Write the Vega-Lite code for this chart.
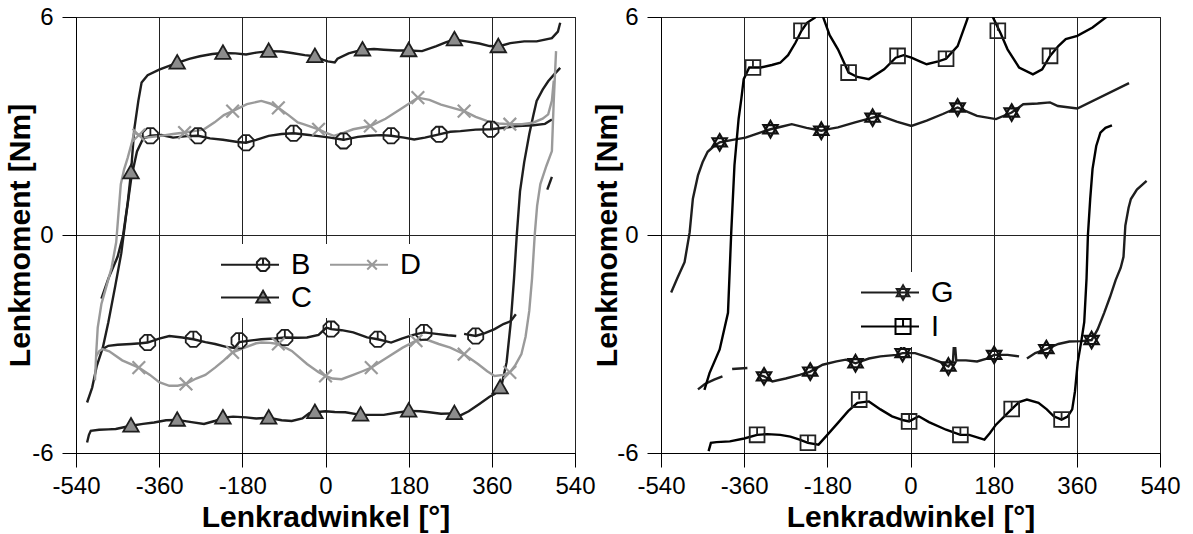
{
"$schema": "https://vega.github.io/schema/vega-lite/v6.json",
"background": "white",
"padding": {"left": 4, "top": 4, "right": 0, "bottom": 0},
"datasets": {
"leftLines": [
{"s":"B","b":"Bu","x":-516,"y":-4.61},{"s":"B","b":"Bu","x":-505,"y":-4.2},{"s":"B","b":"Bu","x":-495,"y":-3.6},{"s":"B","b":"Bu","x":-482,"y":-3.1},{"s":"B","b":"Bu","x":-470,"y":-2.4},{"s":"B","b":"Bu","x":-455,"y":-1.4},{"s":"B","b":"Bu","x":-442,"y":-0.5},{"s":"B","b":"Bu","x":-432,"y":0.5},{"s":"B","b":"Bu","x":-420,"y":1.6},{"s":"B","b":"Bu","x":-408,"y":2.3},{"s":"B","b":"Bu","x":-395,"y":2.65},{"s":"B","b":"Bu","x":-379,"y":2.73},{"s":"B","b":"Bu","x":-355,"y":2.75},{"s":"B","b":"Bu","x":-330,"y":2.68},{"s":"B","b":"Bu","x":-300,"y":2.72},{"s":"B","b":"Bu","x":-276,"y":2.73},{"s":"B","b":"Bu","x":-250,"y":2.66},{"s":"B","b":"Bu","x":-222,"y":2.62},{"s":"B","b":"Bu","x":-190,"y":2.56},{"s":"B","b":"Bu","x":-172,"y":2.54},{"s":"B","b":"Bu","x":-150,"y":2.62},{"s":"B","b":"Bu","x":-123,"y":2.73},{"s":"B","b":"Bu","x":-95,"y":2.78},{"s":"B","b":"Bu","x":-69,"y":2.8},{"s":"B","b":"Bu","x":-40,"y":2.76},{"s":"B","b":"Bu","x":-15,"y":2.72},{"s":"B","b":"Bu","x":10,"y":2.68},{"s":"B","b":"Bu","x":39,"y":2.62},{"s":"B","b":"Bu","x":70,"y":2.7},{"s":"B","b":"Bu","x":93,"y":2.73},{"s":"B","b":"Bu","x":120,"y":2.75},{"s":"B","b":"Bu","x":142,"y":2.73},{"s":"B","b":"Bu","x":170,"y":2.68},{"s":"B","b":"Bu","x":192,"y":2.63},{"s":"B","b":"Bu","x":215,"y":2.68},{"s":"B","b":"Bu","x":246,"y":2.77},{"s":"B","b":"Bu","x":270,"y":2.84},{"s":"B","b":"Bu","x":292,"y":2.86},{"s":"B","b":"Bu","x":325,"y":2.9},{"s":"B","b":"Bu","x":358,"y":2.91},{"s":"B","b":"Bu","x":390,"y":2.96},{"s":"B","b":"Bu","x":416,"y":3.0},{"s":"B","b":"Bu","x":450,"y":3.02},{"s":"B","b":"Bu","x":475,"y":3.06},{"s":"B","b":"Bu","x":490,"y":3.18},
{"s":"B","b":"Bl","x":-483,"y":-3.14},{"s":"B","b":"Bl","x":-470,"y":-3.05},{"s":"B","b":"Bl","x":-450,"y":-3.02},{"s":"B","b":"Bl","x":-421,"y":-3.0},{"s":"B","b":"Bl","x":-400,"y":-2.98},{"s":"B","b":"Bl","x":-385,"y":-2.96},{"s":"B","b":"Bl","x":-360,"y":-2.85},{"s":"B","b":"Bl","x":-338,"y":-2.78},{"s":"B","b":"Bl","x":-310,"y":-2.82},{"s":"B","b":"Bl","x":-286,"y":-2.87},{"s":"B","b":"Bl","x":-260,"y":-2.95},{"s":"B","b":"Bl","x":-239,"y":-3.0},{"s":"B","b":"Bl","x":-215,"y":-3.08},{"s":"B","b":"Bl","x":-197,"y":-3.11},{"s":"B","b":"Bl","x":-187,"y":-2.95},{"s":"B","b":"Bl","x":-160,"y":-2.9},{"s":"B","b":"Bl","x":-139,"y":-2.87},{"s":"B","b":"Bl","x":-110,"y":-2.85},{"s":"B","b":"Bl","x":-88,"y":-2.82},{"s":"B","b":"Bl","x":-60,"y":-2.83},{"s":"B","b":"Bl","x":-40,"y":-2.82},{"s":"B","b":"Bl","x":-15,"y":-2.75},{"s":"B","b":"Bl","x":2,"y":-2.55},{"s":"B","b":"Bl","x":12,"y":-2.59},{"s":"B","b":"Bl","x":35,"y":-2.62},{"s":"B","b":"Bl","x":60,"y":-2.68},{"s":"B","b":"Bl","x":90,"y":-2.82},{"s":"B","b":"Bl","x":113,"y":-2.87},{"s":"B","b":"Bl","x":130,"y":-2.92},{"s":"B","b":"Bl","x":142,"y":-2.96},{"s":"B","b":"Bl","x":165,"y":-2.85},{"s":"B","b":"Bl","x":190,"y":-2.75},{"s":"B","b":"Bl","x":213,"y":-2.68},{"s":"B","b":"Bl","x":240,"y":-2.72},{"s":"B","b":"Bl","x":265,"y":-2.76},{"s":"B","b":"Bl","x":283,"y":-2.78},
{"s":"B","b":"Bl2","x":300,"y":-2.72},{"s":"B","b":"Bl2","x":325,"y":-2.78},{"s":"B","b":"Bl2","x":345,"y":-2.7},{"s":"B","b":"Bl2","x":366,"y":-2.59},{"s":"B","b":"Bl2","x":385,"y":-2.45},{"s":"B","b":"Bl2","x":401,"y":-2.37},{"s":"B","b":"Bl2","x":412,"y":-2.18},
{"s":"B","b":"Bl3","x":480,"y":1.25},{"s":"B","b":"Bl3","x":490,"y":1.6},
{"s":"C","b":"Cu","x":-485,"y":-1.75},{"s":"C","b":"Cu","x":-470,"y":-1.2},{"s":"C","b":"Cu","x":-450,"y":-0.6},{"s":"C","b":"Cu","x":-438,"y":0},{"s":"C","b":"Cu","x":-428,"y":0.9},{"s":"C","b":"Cu","x":-421,"y":1.72},{"s":"C","b":"Cu","x":-414,"y":2.9},{"s":"C","b":"Cu","x":-405,"y":3.7},{"s":"C","b":"Cu","x":-398,"y":4.2},{"s":"C","b":"Cu","x":-385,"y":4.4},{"s":"C","b":"Cu","x":-360,"y":4.55},{"s":"C","b":"Cu","x":-321,"y":4.74},{"s":"C","b":"Cu","x":-295,"y":4.85},{"s":"C","b":"Cu","x":-272,"y":4.92},{"s":"C","b":"Cu","x":-245,"y":4.98},{"s":"C","b":"Cu","x":-222,"y":5.01},{"s":"C","b":"Cu","x":-195,"y":5.0},{"s":"C","b":"Cu","x":-172,"y":4.97},{"s":"C","b":"Cu","x":-150,"y":5.02},{"s":"C","b":"Cu","x":-123,"y":5.06},{"s":"C","b":"Cu","x":-95,"y":5.05},{"s":"C","b":"Cu","x":-73,"y":5.01},{"s":"C","b":"Cu","x":-45,"y":4.95},{"s":"C","b":"Cu","x":-23,"y":4.92},{"s":"C","b":"Cu","x":-5,"y":4.82},{"s":"C","b":"Cu","x":5,"y":4.78},{"s":"C","b":"Cu","x":20,"y":4.75},{"s":"C","b":"Cu","x":26,"y":4.85},{"s":"C","b":"Cu","x":50,"y":5.0},{"s":"C","b":"Cu","x":80,"y":5.1},{"s":"C","b":"Cu","x":105,"y":5.12},{"s":"C","b":"Cu","x":126,"y":5.1},{"s":"C","b":"Cu","x":155,"y":5.08},{"s":"C","b":"Cu","x":180,"y":5.08},{"s":"C","b":"Cu","x":209,"y":5.06},{"s":"C","b":"Cu","x":240,"y":5.2},{"s":"C","b":"Cu","x":260,"y":5.3},{"s":"C","b":"Cu","x":279,"y":5.38},{"s":"C","b":"Cu","x":305,"y":5.33},{"s":"C","b":"Cu","x":333,"y":5.27},{"s":"C","b":"Cu","x":355,"y":5.2},{"s":"C","b":"Cu","x":374,"y":5.19},{"s":"C","b":"Cu","x":400,"y":5.28},{"s":"C","b":"Cu","x":430,"y":5.33},{"s":"C","b":"Cu","x":457,"y":5.33},{"s":"C","b":"Cu","x":490,"y":5.42},{"s":"C","b":"Cu","x":503,"y":5.6},{"s":"C","b":"Cu","x":508,"y":5.84},
{"s":"C","b":"Cl","x":-516,"y":-5.71},{"s":"C","b":"Cl","x":-512,"y":-5.5},{"s":"C","b":"Cl","x":-508,"y":-5.39},{"s":"C","b":"Cl","x":-490,"y":-5.36},{"s":"C","b":"Cl","x":-470,"y":-5.35},{"s":"C","b":"Cl","x":-454,"y":-5.34},{"s":"C","b":"Cl","x":-421,"y":-5.25},{"s":"C","b":"Cl","x":-395,"y":-5.2},{"s":"C","b":"Cl","x":-371,"y":-5.16},{"s":"C","b":"Cl","x":-345,"y":-5.1},{"s":"C","b":"Cl","x":-321,"y":-5.09},{"s":"C","b":"Cl","x":-290,"y":-5.15},{"s":"C","b":"Cl","x":-263,"y":-5.2},{"s":"C","b":"Cl","x":-240,"y":-5.12},{"s":"C","b":"Cl","x":-222,"y":-5.03},{"s":"C","b":"Cl","x":-200,"y":-5.0},{"s":"C","b":"Cl","x":-172,"y":-5.02},{"s":"C","b":"Cl","x":-150,"y":-5.05},{"s":"C","b":"Cl","x":-123,"y":-5.03},{"s":"C","b":"Cl","x":-95,"y":-5.1},{"s":"C","b":"Cl","x":-73,"y":-5.12},{"s":"C","b":"Cl","x":-50,"y":-5.05},{"s":"C","b":"Cl","x":-35,"y":-4.9},{"s":"C","b":"Cl","x":-23,"y":-4.88},{"s":"C","b":"Cl","x":0,"y":-4.85},{"s":"C","b":"Cl","x":20,"y":-4.87},{"s":"C","b":"Cl","x":43,"y":-4.88},{"s":"C","b":"Cl","x":76,"y":-4.95},{"s":"C","b":"Cl","x":100,"y":-4.95},{"s":"C","b":"Cl","x":126,"y":-4.95},{"s":"C","b":"Cl","x":150,"y":-4.9},{"s":"C","b":"Cl","x":180,"y":-4.84},{"s":"C","b":"Cl","x":205,"y":-4.85},{"s":"C","b":"Cl","x":225,"y":-4.88},{"s":"C","b":"Cl","x":250,"y":-4.92},{"s":"C","b":"Cl","x":279,"y":-4.91},{"s":"C","b":"Cl","x":291,"y":-4.97},{"s":"C","b":"Cl","x":310,"y":-4.85},{"s":"C","b":"Cl","x":333,"y":-4.65},{"s":"C","b":"Cl","x":355,"y":-4.45},{"s":"C","b":"Cl","x":366,"y":-4.38},{"s":"C","b":"Cl","x":380,"y":-4.2},{"s":"C","b":"Cl","x":392,"y":-3.5},{"s":"C","b":"Cl","x":401,"y":-2.4},{"s":"C","b":"Cl","x":408,"y":-1.2},{"s":"C","b":"Cl","x":414,"y":0},{"s":"C","b":"Cl","x":421,"y":1.2},{"s":"C","b":"Cl","x":430,"y":2.0},{"s":"C","b":"Cl","x":441,"y":2.77},{"s":"C","b":"Cl","x":450,"y":3.3},{"s":"C","b":"Cl","x":457,"y":3.69},{"s":"C","b":"Cl","x":470,"y":4.0},{"s":"C","b":"Cl","x":482,"y":4.23},{"s":"C","b":"Cl","x":495,"y":4.42},{"s":"C","b":"Cl","x":508,"y":4.6},
{"s":"D","b":"Du","x":-499,"y":-4.0},{"s":"D","b":"Du","x":-496,"y":-3.2},{"s":"D","b":"Du","x":-493,"y":-2.55},{"s":"D","b":"Du","x":-485,"y":-1.9},{"s":"D","b":"Du","x":-475,"y":-1.45},{"s":"D","b":"Du","x":-463,"y":-0.9},{"s":"D","b":"Du","x":-453,"y":-0.2},{"s":"D","b":"Du","x":-448,"y":0.6},{"s":"D","b":"Du","x":-443,"y":1.4},{"s":"D","b":"Du","x":-436,"y":1.8},{"s":"D","b":"Du","x":-428,"y":2.13},{"s":"D","b":"Du","x":-420,"y":2.5},{"s":"D","b":"Du","x":-414,"y":2.82},{"s":"D","b":"Du","x":-404,"y":2.75},{"s":"D","b":"Du","x":-389,"y":2.68},{"s":"D","b":"Du","x":-360,"y":2.72},{"s":"D","b":"Du","x":-330,"y":2.78},{"s":"D","b":"Du","x":-305,"y":2.82},{"s":"D","b":"Du","x":-285,"y":2.86},{"s":"D","b":"Du","x":-263,"y":2.91},{"s":"D","b":"Du","x":-240,"y":3.1},{"s":"D","b":"Du","x":-220,"y":3.3},{"s":"D","b":"Du","x":-201,"y":3.41},{"s":"D","b":"Du","x":-170,"y":3.6},{"s":"D","b":"Du","x":-139,"y":3.69},{"s":"D","b":"Du","x":-120,"y":3.62},{"s":"D","b":"Du","x":-102,"y":3.5},{"s":"D","b":"Du","x":-80,"y":3.3},{"s":"D","b":"Du","x":-60,"y":3.1},{"s":"D","b":"Du","x":-48,"y":3.05},{"s":"D","b":"Du","x":-15,"y":2.91},{"s":"D","b":"Du","x":0,"y":2.82},{"s":"D","b":"Du","x":18,"y":2.73},{"s":"D","b":"Du","x":40,"y":2.82},{"s":"D","b":"Du","x":60,"y":2.91},{"s":"D","b":"Du","x":97,"y":3.0},{"s":"D","b":"Du","x":130,"y":3.2},{"s":"D","b":"Du","x":167,"y":3.5},{"s":"D","b":"Du","x":200,"y":3.78},{"s":"D","b":"Du","x":225,"y":3.72},{"s":"D","b":"Du","x":250,"y":3.59},{"s":"D","b":"Du","x":275,"y":3.5},{"s":"D","b":"Du","x":300,"y":3.41},{"s":"D","b":"Du","x":325,"y":3.25},{"s":"D","b":"Du","x":349,"y":3.14},{"s":"D","b":"Du","x":375,"y":3.07},{"s":"D","b":"Du","x":399,"y":3.05},{"s":"D","b":"Du","x":425,"y":3.05},{"s":"D","b":"Du","x":449,"y":3.09},{"s":"D","b":"Du","x":470,"y":3.2},{"s":"D","b":"Du","x":482,"y":3.32},{"s":"D","b":"Du","x":490,"y":3.7},{"s":"D","b":"Du","x":494,"y":4.25},
{"s":"D","b":"Dl","x":-497,"y":-3.35},{"s":"D","b":"Dl","x":-490,"y":-3.2},{"s":"D","b":"Dl","x":-483,"y":-3.14},{"s":"D","b":"Dl","x":-468,"y":-3.2},{"s":"D","b":"Dl","x":-440,"y":-3.45},{"s":"D","b":"Dl","x":-404,"y":-3.65},{"s":"D","b":"Dl","x":-380,"y":-3.85},{"s":"D","b":"Dl","x":-360,"y":-4.05},{"s":"D","b":"Dl","x":-338,"y":-4.15},{"s":"D","b":"Dl","x":-320,"y":-4.15},{"s":"D","b":"Dl","x":-302,"y":-4.1},{"s":"D","b":"Dl","x":-280,"y":-3.95},{"s":"D","b":"Dl","x":-260,"y":-3.85},{"s":"D","b":"Dl","x":-239,"y":-3.65},{"s":"D","b":"Dl","x":-220,"y":-3.45},{"s":"D","b":"Dl","x":-201,"y":-3.23},{"s":"D","b":"Dl","x":-175,"y":-3.1},{"s":"D","b":"Dl","x":-150,"y":-2.98},{"s":"D","b":"Dl","x":-139,"y":-2.96},{"s":"D","b":"Dl","x":-120,"y":-2.97},{"s":"D","b":"Dl","x":-102,"y":-3.0},{"s":"D","b":"Dl","x":-73,"y":-3.19},{"s":"D","b":"Dl","x":-40,"y":-3.55},{"s":"D","b":"Dl","x":-15,"y":-3.78},{"s":"D","b":"Dl","x":0,"y":-3.88},{"s":"D","b":"Dl","x":15,"y":-3.95},{"s":"D","b":"Dl","x":35,"y":-3.97},{"s":"D","b":"Dl","x":60,"y":-3.85},{"s":"D","b":"Dl","x":80,"y":-3.75},{"s":"D","b":"Dl","x":99,"y":-3.65},{"s":"D","b":"Dl","x":130,"y":-3.4},{"s":"D","b":"Dl","x":167,"y":-3.1},{"s":"D","b":"Dl","x":196,"y":-2.91},{"s":"D","b":"Dl","x":217,"y":-2.87},{"s":"D","b":"Dl","x":245,"y":-3.0},{"s":"D","b":"Dl","x":270,"y":-3.1},{"s":"D","b":"Dl","x":300,"y":-3.28},{"s":"D","b":"Dl","x":330,"y":-3.55},{"s":"D","b":"Dl","x":350,"y":-3.75},{"s":"D","b":"Dl","x":366,"y":-3.88},{"s":"D","b":"Dl","x":385,"y":-3.85},{"s":"D","b":"Dl","x":399,"y":-3.78},{"s":"D","b":"Dl","x":410,"y":-3.6},{"s":"D","b":"Dl","x":424,"y":-3.28},{"s":"D","b":"Dl","x":433,"y":-2.8},{"s":"D","b":"Dl","x":441,"y":-2.09},{"s":"D","b":"Dl","x":447,"y":-1.2},{"s":"D","b":"Dl","x":453,"y":0.03},{"s":"D","b":"Dl","x":458,"y":0.8},{"s":"D","b":"Dl","x":465,"y":1.4},{"s":"D","b":"Dl","x":478,"y":1.9},{"s":"D","b":"Dl","x":490,"y":2.31},{"s":"D","b":"Dl","x":494,"y":3.69},{"s":"D","b":"Dl","x":499,"y":5.06}
],
"leftMarks": [
{"s":"B","x":-379,"y":2.73},{"s":"B","x":-276,"y":2.73},{"s":"B","x":-172,"y":2.54},{"s":"B","x":-69,"y":2.8},{"s":"B","x":39,"y":2.59},{"s":"B","x":142,"y":2.73},{"s":"B","x":246,"y":2.77},{"s":"B","x":358,"y":2.91},{"s":"B","x":-385,"y":-2.96},{"s":"B","x":-286,"y":-2.87},{"s":"B","x":-187,"y":-2.91},{"s":"B","x":-88,"y":-2.82},{"s":"B","x":12,"y":-2.59},{"s":"B","x":113,"y":-2.87},{"s":"B","x":213,"y":-2.68},{"s":"B","x":325,"y":-2.78},
{"s":"C","x":-421,"y":1.72},{"s":"C","x":-321,"y":4.74},{"s":"C","x":-222,"y":5.01},{"s":"C","x":-123,"y":5.06},{"s":"C","x":-23,"y":4.92},{"s":"C","x":80,"y":5.1},{"s":"C","x":180,"y":5.08},{"s":"C","x":279,"y":5.38},{"s":"C","x":374,"y":5.19},{"s":"C","x":-421,"y":-5.25},{"s":"C","x":-321,"y":-5.09},{"s":"C","x":-222,"y":-5.03},{"s":"C","x":-123,"y":-5.03},{"s":"C","x":-23,"y":-4.88},{"s":"C","x":76,"y":-4.95},{"s":"C","x":180,"y":-4.84},{"s":"C","x":279,"y":-4.91},{"s":"C","x":378,"y":-4.2},
{"s":"D","x":-404,"y":2.75},{"s":"D","x":-305,"y":2.82},{"s":"D","x":-201,"y":3.41},{"s":"D","x":-102,"y":3.5},{"s":"D","x":-15,"y":2.91},{"s":"D","x":97,"y":3.0},{"s":"D","x":200,"y":3.78},{"s":"D","x":300,"y":3.41},{"s":"D","x":399,"y":3.05},{"s":"D","x":-404,"y":-3.65},{"s":"D","x":-302,"y":-4.1},{"s":"D","x":-201,"y":-3.23},{"s":"D","x":-102,"y":-3.0},{"s":"D","x":0,"y":-3.88},{"s":"D","x":99,"y":-3.65},{"s":"D","x":196,"y":-2.91},{"s":"D","x":300,"y":-3.28},{"s":"D","x":399,"y":-3.78}
],
"rightLines": [
{"s":"G","b":"Gu","x":-518,"y":-1.58},{"s":"G","b":"Gu","x":-505,"y":-1.2},{"s":"G","b":"Gu","x":-489,"y":-0.75},{"s":"G","b":"Gu","x":-478,"y":0.07},{"s":"G","b":"Gu","x":-471,"y":1.0},{"s":"G","b":"Gu","x":-460,"y":1.64},{"s":"G","b":"Gu","x":-450,"y":2.0},{"s":"G","b":"Gu","x":-439,"y":2.29},{"s":"G","b":"Gu","x":-425,"y":2.45},{"s":"G","b":"Gu","x":-413,"y":2.55},{"s":"G","b":"Gu","x":-385,"y":2.62},{"s":"G","b":"Gu","x":-357,"y":2.68},{"s":"G","b":"Gu","x":-330,"y":2.8},{"s":"G","b":"Gu","x":-303,"y":2.91},{"s":"G","b":"Gu","x":-280,"y":2.98},{"s":"G","b":"Gu","x":-257,"y":3.05},{"s":"G","b":"Gu","x":-225,"y":2.95},{"s":"G","b":"Gu","x":-193,"y":2.87},{"s":"G","b":"Gu","x":-175,"y":2.92},{"s":"G","b":"Gu","x":-157,"y":2.96},{"s":"G","b":"Gu","x":-120,"y":3.1},{"s":"G","b":"Gu","x":-82,"y":3.23},{"s":"G","b":"Gu","x":-65,"y":3.28},{"s":"G","b":"Gu","x":-30,"y":3.12},{"s":"G","b":"Gu","x":2,"y":3.0},{"s":"G","b":"Gu","x":35,"y":3.15},{"s":"G","b":"Gu","x":70,"y":3.33},{"s":"G","b":"Gu","x":102,"y":3.51},{"s":"G","b":"Gu","x":125,"y":3.38},{"s":"G","b":"Gu","x":144,"y":3.28},{"s":"G","b":"Gu","x":185,"y":3.19},{"s":"G","b":"Gu","x":219,"y":3.37},{"s":"G","b":"Gu","x":244,"y":3.6},{"s":"G","b":"Gu","x":275,"y":3.62},{"s":"G","b":"Gu","x":302,"y":3.65},{"s":"G","b":"Gu","x":319,"y":3.55},{"s":"G","b":"Gu","x":361,"y":3.48},{"s":"G","b":"Gu","x":473,"y":4.18},
{"s":"G","b":"Gl1","x":-460,"y":-4.25},{"s":"G","b":"Gl1","x":-445,"y":-4.1},{"s":"G","b":"Gl1","x":-425,"y":-3.98},{"s":"G","b":"Gl1","x":-407,"y":-3.89},
{"s":"G","b":"Gl2","x":-386,"y":-3.69},{"s":"G","b":"Gl2","x":-353,"y":-3.66},
{"s":"G","b":"Gl3","x":-330,"y":-3.85},{"s":"G","b":"Gl3","x":-317,"y":-3.89},{"s":"G","b":"Gl3","x":-299,"y":-4.03},{"s":"G","b":"Gl3","x":-270,"y":-3.95},{"s":"G","b":"Gl3","x":-240,"y":-3.85},{"s":"G","b":"Gl3","x":-217,"y":-3.76},{"s":"G","b":"Gl3","x":-190,"y":-3.57},{"s":"G","b":"Gl3","x":-160,"y":-3.48},{"s":"G","b":"Gl3","x":-140,"y":-3.43},{"s":"G","b":"Gl3","x":-119,"y":-3.53},{"s":"G","b":"Gl3","x":-90,"y":-3.4},{"s":"G","b":"Gl3","x":-65,"y":-3.34},{"s":"G","b":"Gl3","x":-30,"y":-3.3},{"s":"G","b":"Gl3","x":-17,"y":-3.25},{"s":"G","b":"Gl3","x":10,"y":-3.25},{"s":"G","b":"Gl3","x":43,"y":-3.39},{"s":"G","b":"Gl3","x":65,"y":-3.5},{"s":"G","b":"Gl3","x":82,"y":-3.62},{"s":"G","b":"Gl3","x":92,"y":-3.45},{"s":"G","b":"Gl3","x":95,"y":-2.8},{"s":"G","b":"Gl3","x":99,"y":-3.45},{"s":"G","b":"Gl3","x":120,"y":-3.45},{"s":"G","b":"Gl3","x":144,"y":-3.48},{"s":"G","b":"Gl3","x":165,"y":-3.4},{"s":"G","b":"Gl3","x":181,"y":-3.3},{"s":"G","b":"Gl3","x":210,"y":-3.3},{"s":"G","b":"Gl3","x":235,"y":-3.34},
{"s":"G","b":"Gl4","x":252,"y":-3.4},{"s":"G","b":"Gl4","x":270,"y":-3.25},{"s":"G","b":"Gl4","x":294,"y":-3.14},{"s":"G","b":"Gl4","x":320,"y":-3.0},{"s":"G","b":"Gl4","x":344,"y":-2.93},{"s":"G","b":"Gl4","x":370,"y":-2.92},{"s":"G","b":"Gl4","x":392,"y":-2.89},{"s":"G","b":"Gl4","x":405,"y":-2.6},{"s":"G","b":"Gl4","x":419,"y":-2.15},{"s":"G","b":"Gl4","x":432,"y":-1.7},{"s":"G","b":"Gl4","x":444,"y":-1.24},{"s":"G","b":"Gl4","x":455,"y":-0.9},{"s":"G","b":"Gl4","x":461,"y":-0.6},{"s":"G","b":"Gl4","x":465,"y":0.26},{"s":"G","b":"Gl4","x":472,"y":0.75},{"s":"G","b":"Gl4","x":477,"y":0.99},{"s":"G","b":"Gl4","x":490,"y":1.25},{"s":"G","b":"Gl4","x":511,"y":1.49},
{"s":"I","b":"Iu","x":-446,"y":-4.26},{"s":"I","b":"Iu","x":-435,"y":-3.8},{"s":"I","b":"Iu","x":-413,"y":-3.15},{"s":"I","b":"Iu","x":-395,"y":-2.14},{"s":"I","b":"Iu","x":-388,"y":0.07},{"s":"I","b":"Iu","x":-381,"y":1.92},{"s":"I","b":"Iu","x":-372,"y":3.2},{"s":"I","b":"Iu","x":-366,"y":3.76},{"s":"I","b":"Iu","x":-361,"y":4.29},{"s":"I","b":"Iu","x":-349,"y":4.61},{"s":"I","b":"Iu","x":-324,"y":4.61},{"s":"I","b":"Iu","x":-300,"y":4.68},{"s":"I","b":"Iu","x":-282,"y":4.74},{"s":"I","b":"Iu","x":-265,"y":4.95},{"s":"I","b":"Iu","x":-249,"y":5.29},{"s":"I","b":"Iu","x":-236,"y":5.62},{"s":"I","b":"Iu","x":-224,"y":5.84},{"s":"I","b":"Iu","x":-207,"y":5.98},{"s":"I","b":"Iu","x":-198,"y":6.2},{"s":"I","b":"Iu","x":-190,"y":6.03},{"s":"I","b":"Iu","x":-175,"y":5.5},{"s":"I","b":"Iu","x":-157,"y":5.11},{"s":"I","b":"Iu","x":-134,"y":4.47},{"s":"I","b":"Iu","x":-115,"y":4.35},{"s":"I","b":"Iu","x":-90,"y":4.29},{"s":"I","b":"Iu","x":-57,"y":4.56},{"s":"I","b":"Iu","x":-32,"y":4.88},{"s":"I","b":"Iu","x":-15,"y":4.95},{"s":"I","b":"Iu","x":2,"y":4.88},{"s":"I","b":"Iu","x":20,"y":4.78},{"s":"I","b":"Iu","x":35,"y":4.7},{"s":"I","b":"Iu","x":60,"y":4.78},{"s":"I","b":"Iu","x":77,"y":4.85},{"s":"I","b":"Iu","x":102,"y":5.2},{"s":"I","b":"Iu","x":123,"y":5.94},{"s":"I","b":"Iu","x":130,"y":6.3},{"s":"I","b":"Iu","x":150,"y":6.6},{"s":"I","b":"Iu","x":170,"y":6.3},{"s":"I","b":"Iu","x":177,"y":6.03},{"s":"I","b":"Iu","x":195,"y":5.55},{"s":"I","b":"Iu","x":210,"y":5.11},{"s":"I","b":"Iu","x":235,"y":4.61},{"s":"I","b":"Iu","x":265,"y":4.42},{"s":"I","b":"Iu","x":285,"y":4.56},{"s":"I","b":"Iu","x":302,"y":4.93},{"s":"I","b":"Iu","x":320,"y":5.2},{"s":"I","b":"Iu","x":336,"y":5.39},{"s":"I","b":"Iu","x":361,"y":5.48},{"s":"I","b":"Iu","x":394,"y":5.71},{"s":"I","b":"Iu","x":427,"y":6.03},{"s":"I","b":"Iu","x":460,"y":6.4},
{"s":"I","b":"Il","x":-437,"y":-5.95},{"s":"I","b":"Il","x":-432,"y":-5.72},{"s":"I","b":"Il","x":-420,"y":-5.7},{"s":"I","b":"Il","x":-391,"y":-5.68},{"s":"I","b":"Il","x":-360,"y":-5.6},{"s":"I","b":"Il","x":-332,"y":-5.5},{"s":"I","b":"Il","x":-310,"y":-5.48},{"s":"I","b":"Il","x":-282,"y":-5.5},{"s":"I","b":"Il","x":-260,"y":-5.55},{"s":"I","b":"Il","x":-240,"y":-5.63},{"s":"I","b":"Il","x":-222,"y":-5.72},{"s":"I","b":"Il","x":-199,"y":-5.77},{"s":"I","b":"Il","x":-180,"y":-5.5},{"s":"I","b":"Il","x":-157,"y":-5.17},{"s":"I","b":"Il","x":-135,"y":-4.85},{"s":"I","b":"Il","x":-115,"y":-4.62},{"s":"I","b":"Il","x":-90,"y":-4.58},{"s":"I","b":"Il","x":-65,"y":-4.8},{"s":"I","b":"Il","x":-40,"y":-4.99},{"s":"I","b":"Il","x":-15,"y":-5.1},{"s":"I","b":"Il","x":-3,"y":-5.13},{"s":"I","b":"Il","x":18,"y":-4.99},{"s":"I","b":"Il","x":40,"y":-5.15},{"s":"I","b":"Il","x":77,"y":-5.36},{"s":"I","b":"Il","x":108,"y":-5.5},{"s":"I","b":"Il","x":127,"y":-5.5},{"s":"I","b":"Il","x":160,"y":-5.63},{"s":"I","b":"Il","x":172,"y":-5.45},{"s":"I","b":"Il","x":185,"y":-5.22},{"s":"I","b":"Il","x":219,"y":-4.79},{"s":"I","b":"Il","x":235,"y":-4.6},{"s":"I","b":"Il","x":252,"y":-4.53},{"s":"I","b":"Il","x":277,"y":-4.62},{"s":"I","b":"Il","x":295,"y":-4.8},{"s":"I","b":"Il","x":310,"y":-4.99},{"s":"I","b":"Il","x":327,"y":-5.08},{"s":"I","b":"Il","x":340,"y":-5.0},{"s":"I","b":"Il","x":350,"y":-4.8},{"s":"I","b":"Il","x":356,"y":-4.3},{"s":"I","b":"Il","x":362,"y":-3.5},{"s":"I","b":"Il","x":370,"y":-2.9},{"s":"I","b":"Il","x":376,"y":-2.4},{"s":"I","b":"Il","x":381,"y":-1.2},{"s":"I","b":"Il","x":384,"y":0},{"s":"I","b":"Il","x":389,"y":1.0},{"s":"I","b":"Il","x":394,"y":1.82},{"s":"I","b":"Il","x":402,"y":2.45},{"s":"I","b":"Il","x":411,"y":2.82},{"s":"I","b":"Il","x":422,"y":2.95},{"s":"I","b":"Il","x":436,"y":3.02}
],
"rightMarks": [
{"s":"G","x":-413,"y":2.55},{"s":"G","x":-303,"y":2.91},{"s":"G","x":-193,"y":2.87},{"s":"G","x":-82,"y":3.23},{"s":"G","x":102,"y":3.51},{"s":"G","x":219,"y":3.37},{"s":"G","x":-317,"y":-3.89},{"s":"G","x":-217,"y":-3.76},{"s":"G","x":-119,"y":-3.53},{"s":"G","x":-17,"y":-3.25},{"s":"G","x":82,"y":-3.62},{"s":"G","x":181,"y":-3.3},{"s":"G","x":294,"y":-3.14},{"s":"G","x":392,"y":-2.89},
{"s":"I","x":-341,"y":4.61},{"s":"I","x":-236,"y":5.62},{"s":"I","x":-134,"y":4.47},{"s":"I","x":-28,"y":4.93},{"s":"I","x":77,"y":4.85},{"s":"I","x":189,"y":5.62},{"s":"I","x":302,"y":4.93},{"s":"I","x":-332,"y":-5.5},{"s":"I","x":-222,"y":-5.72},{"s":"I","x":-111,"y":-4.53},{"s":"I","x":-3,"y":-5.13},{"s":"I","x":108,"y":-5.5},{"s":"I","x":219,"y":-4.79},{"s":"I","x":327,"y":-5.08}
]
},
"spacing": 86,
"bounds": "flush",
"resolve": {"scale": {"color": "independent", "shape": "independent", "fill": "independent"}, "legend": {"color": "independent", "shape": "independent", "fill": "independent"}},
"hconcat": [
{
"width": 499, "height": 436,
"encoding": {
  "x": {"field": "x", "type": "quantitative", "scale": {"domain": [-540, 540], "nice": false, "zero": false}, "axis": {"values": [-540,-360,-180,0,180,360,540], "grid": true, "title": "Lenkradwinkel [°]", "labelPadding": 7}},
  "y": {"field": "y", "type": "quantitative", "scale": {"domain": [-6, 6], "nice": false}, "axis": {"values": [-6,0,6], "grid": true, "title": "Lenkmoment [Nm]", "labelPadding": 9, "titleX": -41, "titleY": 218, "titleBaseline": "bottom", "titleAngle": 270, "titleAlign": "center"}}
},
"layer": [
{"data": {"name": "leftLines"},
 "mark": {"type": "line", "strokeWidth": 2.4, "clip": true},
 "encoding": {
  "color": {"field": "s", "type": "nominal", "scale": {"domain": ["B","D","C"], "range": ["#1e1e1e","#9a9a9a","#1e1e1e"]},
    "legend": {"title": null, "legendX": 139, "legendY": 227, "direction": "horizontal", "columns": 2, "symbolSize": 841, "labelOffset": 40, "rowPadding": 2, "columnPadding": 14}},
  "detail": {"field": "b"}
 }},
{"data": {"name": "leftMarks"},
 "mark": {"type": "point", "opacity": 0, "size": 20},
 "encoding": {
  "color": {"field": "s", "type": "nominal", "scale": {"domain": ["B","D","C"], "range": ["#1e1e1e","#9a9a9a","#1e1e1e"]},
    "legend": {"title": null, "legendX": 139, "legendY": 227, "direction": "horizontal", "columns": 2, "symbolSize": 841, "labelOffset": 40, "rowPadding": 2, "columnPadding": 14}},
  "shape": {"field": "s", "type": "nominal", "scale": {"domain": ["B","D","C"], "range": ["M-1,0H3M2.325,0.176L2.076,0.425L1.724,0.425L1.475,0.176L1.475,-0.176L1.724,-0.425L2.076,-0.425L2.325,-0.176ZM1.9,-0.425V0", "M-1,0H3M1.57,-0.33L2.23,0.33M1.57,0.33L2.23,-0.33", "M-1,0H3M1.9,-0.46L2.36,0.34L1.44,0.34Z"]},
    "legend": {"title": null, "legendX": 139, "legendY": 227, "direction": "horizontal", "columns": 2, "symbolSize": 841, "labelOffset": 40, "rowPadding": 2, "columnPadding": 14}},
  "fill": {"field": "s", "type": "nominal", "scale": {"domain": ["B","D","C"], "range": ["transparent","transparent","#8c8c8c"]},
    "legend": {"title": null, "legendX": 139, "legendY": 227, "direction": "horizontal", "columns": 2, "symbolSize": 841, "labelOffset": 40, "rowPadding": 2, "columnPadding": 14}}
 }},
{"data": {"name": "leftMarks"},
 "transform": [{"filter": "datum.s === 'B'"}],
 "mark": {"type": "point", "shape": "M0.924,0.383L0.383,0.924L-0.383,0.924L-0.924,0.383L-0.924,-0.383L-0.383,-0.924L0.383,-0.924L0.924,-0.383ZM0,-0.924V0", "size": 270, "filled": false, "color": "#1e1e1e", "strokeWidth": 1.8, "opacity": 1, "clip": true}},
{"data": {"name": "leftMarks"},
 "transform": [{"filter": "datum.s === 'D'"}],
 "mark": {"type": "point", "shape": "M-0.8,-0.8L0.8,0.8M-0.8,0.8L0.8,-0.8", "size": 250, "filled": false, "color": "#9a9a9a", "strokeWidth": 2.2, "opacity": 1, "clip": true}},
{"data": {"name": "leftMarks"},
 "transform": [{"filter": "datum.s === 'C'"}],
 "mark": {"type": "point", "shape": "M0,-1L1,0.75L-1,0.75Z", "size": 240, "filled": true, "fill": "#8c8c8c", "stroke": "#1e1e1e", "strokeWidth": 1.8, "opacity": 1, "fillOpacity": 1, "clip": true}}
]
},
{
"width": 499, "height": 436,
"encoding": {
  "x": {"field": "x", "type": "quantitative", "scale": {"domain": [-540, 540], "nice": false, "zero": false}, "axis": {"values": [-540,-360,-180,0,180,360,540], "grid": true, "title": "Lenkradwinkel [°]", "labelPadding": 7}},
  "y": {"field": "y", "type": "quantitative", "scale": {"domain": [-6, 6], "nice": false}, "axis": {"values": [-6,0,6], "grid": true, "title": "Lenkmoment [Nm]", "labelPadding": 9, "titleX": -39, "titleY": 218, "titleBaseline": "bottom", "titleAngle": 270, "titleAlign": "center"}}
},
"layer": [
{"data": {"name": "rightLines"},
 "mark": {"type": "line", "strokeWidth": 2.4, "clip": true},
 "encoding": {
  "color": {"field": "s", "type": "nominal", "scale": {"domain": ["G","I"], "range": ["#1e1e1e","#000000"]},
    "legend": {"title": null, "legendX": 194, "legendY": 255, "columns": 1, "symbolSize": 841, "labelOffset": 40, "rowPadding": 3}},
  "detail": {"field": "b"}
 }},
{"data": {"name": "rightMarks"},
 "mark": {"type": "point", "opacity": 0, "size": 20},
 "encoding": {
  "color": {"field": "s", "type": "nominal", "scale": {"domain": ["G","I"], "range": ["#1e1e1e","#000000"]},
    "legend": {"title": null, "legendX": 194, "legendY": 255, "columns": 1, "symbolSize": 841, "labelOffset": 40, "rowPadding": 3}},
  "shape": {"field": "s", "type": "nominal", "scale": {"domain": ["G","I"], "range": ["M-1,0H3M1.9,-0.5L2.333,0.25L1.467,0.25ZM1.9,0.5L2.333,-0.25L1.467,-0.25Z", "M-1,0H3M1.38,-0.52H2.42V0.52H1.38ZM1.9,-0.52V0"]},
    "legend": {"title": null, "legendX": 194, "legendY": 255, "columns": 1, "symbolSize": 841, "labelOffset": 40, "rowPadding": 3}}
 }},
{"data": {"name": "rightMarks"},
 "transform": [{"filter": "datum.s === 'G'"}],
 "mark": {"type": "point", "shape": "M0,-1L0.866,0.5L-0.866,0.5ZM0,1L0.866,-0.5L-0.866,-0.5Z", "size": 270, "filled": false, "color": "#111111", "strokeWidth": 2.2, "opacity": 1, "clip": true}},
{"data": {"name": "rightMarks"},
 "transform": [{"filter": "datum.s === 'I'"}],
 "mark": {"type": "point", "shape": "M-0.9,-0.9H0.9V0.9H-0.9ZM0,-0.9V0", "size": 270, "filled": false, "color": "#222222", "strokeWidth": 1.8, "opacity": 1, "clip": true}}
]
}
],
"config": {
 "font": "Liberation Sans",
 "view": {"stroke": "black", "strokeWidth": 1},
 "axis": {"labelFont": "Liberation Sans", "labelFontSize": 24, "labelColor": "black", "titleFont": "Liberation Sans", "titleFontSize": 30, "titleFontWeight": "bold", "titleColor": "black", "tickColor": "black", "tickSize": 14, "tickWidth": 1, "domainColor": "black", "gridColor": "#222222", "gridOpacity": 1, "gridWidth": 1, "labelFlush": false, "labelPadding": 4, "titlePadding": 4, "labelExpr": "datum.value < 0 ? '-' + abs(datum.value) : '' + datum.value"},
 "legend": {"orient": "none", "symbolStrokeWidth": 2, "symbolOpacity": 1, "labelFontSize": 29, "labelFont": "Liberation Sans", "labelColor": "black", "padding": 5, "fillColor": "white", "rowPadding": 3, "columnPadding": 12}
}
}
